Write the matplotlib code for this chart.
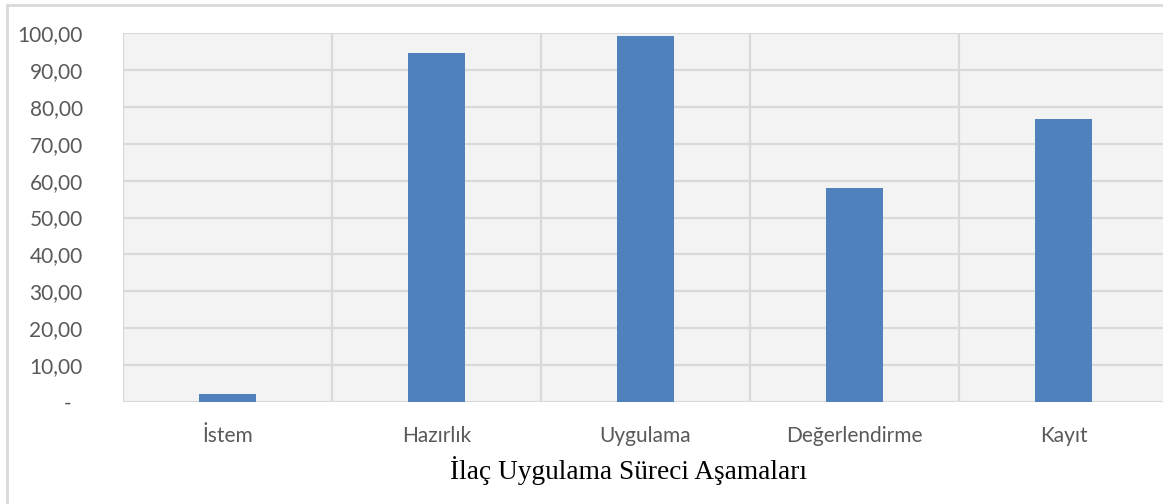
import numpy as np
import matplotlib.pyplot as plt
from matplotlib.lines import Line2D

categories = ['İstem', 'Hazırlık', 'Uygulama', 'Değerlendirme', 'Kayıt']
values = [2.2, 94.6, 99.2, 58.0, 76.7]
yticks = [0, 10, 20, 30, 40, 50, 60, 70, 80, 90, 100]
ytick_labels = ['-  '] + ['%d,00' % v for v in yticks[1:]]
xlabel = 'İlaç Uygulama Süreci Aşamaları'

grid_col = '#d9d9d9'
text_col = '#595959'

fig = plt.figure(figsize=(11.63, 5.04), dpi=100)
ax = fig.add_axes([123/1163, 1 - 402/504, 1045/1163, 369/504])
ax.set_facecolor('#f3f3f3')

x = np.arange(len(categories))
ax.bar(x, values, width=0.27, color='#4f81bd', zorder=3)

ax.set_xlim(-0.5, len(categories) - 0.5)
ax.set_ylim(0, 100)
ax.set_yticks(yticks)
ax.set_yticklabels(ytick_labels, fontfamily='Lato', fontsize=15, color=text_col)
ax.set_xticks(x)
ax.set_xticklabels(categories, fontfamily='Lato', fontsize=15, color=text_col)

# gridlines: horizontal at ticks, vertical between categories
for y in yticks:
    ax.axhline(y, color=grid_col, lw=1.6, zorder=1)
for b in np.arange(-0.5, len(categories), 1.0):
    ax.axvline(b, color=grid_col, lw=1.6, zorder=1)

for s in ax.spines.values():
    s.set_visible(False)
ax.tick_params(axis='both', length=0)
ax.tick_params(axis='y', pad=29)
ax.tick_params(axis='x', pad=17)

ax.set_xlabel(xlabel, fontfamily='Liberation Serif', fontsize=19.7, color='black', labelpad=8)
ax.xaxis.set_label_coords((629 - 123) / 1045, -0.147)

# outer chart frame (left and top edges visible)
fig.add_artist(Line2D([7/1163, 7/1163], [0, 1 - 5/504], transform=fig.transFigure, color=grid_col, lw=2))
fig.add_artist(Line2D([7/1163, 1], [1 - 5/504, 1 - 5/504], transform=fig.transFigure, color=grid_col, lw=2))

plt.savefig('out.png', dpi=100)
